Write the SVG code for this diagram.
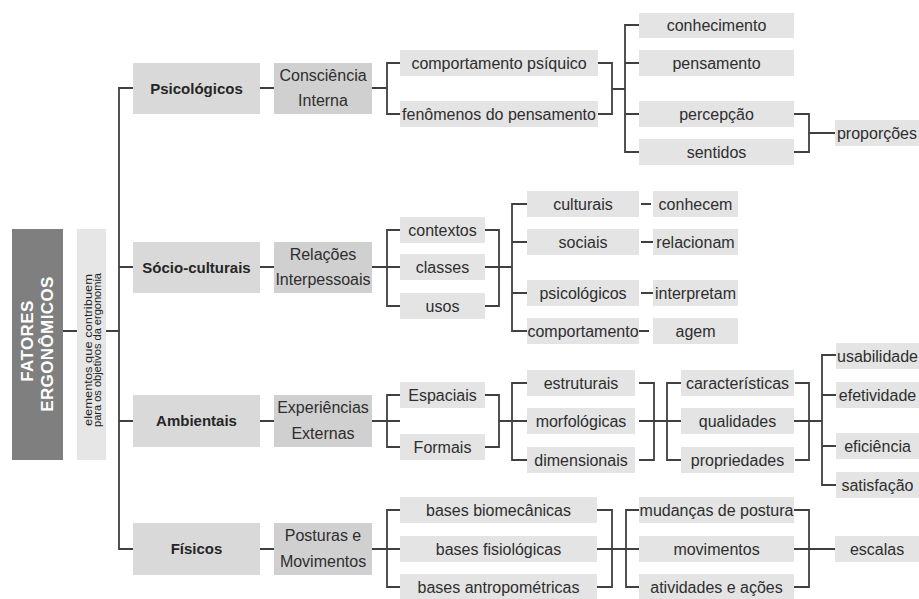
<svg xmlns="http://www.w3.org/2000/svg" width="919" height="599" viewBox="0 0 919 599">
<style>
text{font-family:"Liberation Sans",Arial,sans-serif;font-size:16px;fill:#2e2e2e;text-anchor:middle}
.b{font-weight:bold;font-size:15px;fill:#262626}
.w{font-weight:bold;font-size:17px;fill:#fff;letter-spacing:0.4px}
.s{font-size:11.5px;fill:#222}
.l1{fill:#d9d9d9}
.l2{fill:#d0d0d0}
.l3{fill:#e4e4e4}
.c path{fill:none;stroke:#404040;stroke-width:1.8}
</style>
<rect width="919" height="599" fill="#fff"/>
<g class="c" id="connectors">
<path d="M63,331H77M106,331H119M133,88H119V549H133M119,267H133M119,421H133"/>
<path d="M260,88H274M260,267H274M260,421H274M260,549H274"/>
<path d="M372,88H387M400,63H387V114H401M598,63H612V114H596M612,89H625M639,25H625V152H639M625,63H639M625,114H639M794,114H809V152H794M809,133H836"/>
<path d="M372,267H400M400,230H387V306H400M485,230H499V306H485M485,267H512M527,204H512V331H527M512,242H527M512,293H527M641,204H651M641,242H655M641,293H655M639,331H649"/>
<path d="M372,421H400M400,395H387V447H400M485,395H499V447H485M499,421H512M527,383H512V460H527M512,421H527M639,383H654V460H639M639,421H681M681,383H667V460H681M795,383H809V460H795M794,421H822M836,355H822V485H836M822,395H836M822,446H836"/>
<path d="M372,549H400M400,510H387V587H400M597,510H612V587H597M597,549H639M639,510H626V587H639M794,510H809V587H794M794,549H835"/>
</g>
<g id="fatores"><rect x="12" y="229" width="51" height="231" fill="#7f7f7f"/>
<text class="w" transform="translate(33,341) rotate(-90)">FATORES</text>
<text class="w" transform="translate(53,344) rotate(-90)">ERGONÔMICOS</text></g>
<g id="elementos"><rect x="77" y="229" width="29" height="231" fill="#e6e6e6"/>
<text class="s" transform="translate(92,350) rotate(-90)" textLength="152" lengthAdjust="spacingAndGlyphs">elementos que contribuem</text>
<text class="s" transform="translate(101,350) rotate(-90)" textLength="154" lengthAdjust="spacingAndGlyphs">para os objetivos da ergonomia</text></g>

<g id="psicologicos"><rect class="l1" x="133" y="63" width="127" height="51"/><text class="b" x="196.5" y="93.5">Psicológicos</text></g>
<g id="consciencia"><rect class="l2" x="274" y="63" width="98" height="51"/><text x="323" y="80.5">Consciência</text><text x="323" y="105.5">Interna</text></g>
<g id="comp-psiquico"><rect class="l3" x="400" y="50" width="198" height="26"/><text x="499" y="68.5">comportamento psíquico</text></g>
<g id="fenomenos"><rect class="l3" x="400" y="101" width="198" height="26"/><text x="499" y="119.5">fenômenos do pensamento</text></g>
<g id="conhecimento"><rect class="l3" x="639" y="13" width="155" height="25"/><text x="716.5" y="30.5">conhecimento</text></g>
<g id="pensamento"><rect class="l3" x="639" y="50" width="155" height="26"/><text x="716.5" y="68.5">pensamento</text></g>
<g id="percepcao"><rect class="l3" x="639" y="101" width="155" height="26"/><text x="716.5" y="119.5">percepção</text></g>
<g id="sentidos"><rect class="l3" x="639" y="139" width="155" height="26"/><text x="716.5" y="157.5">sentidos</text></g>
<g id="proporcoes"><rect class="l3" x="835" y="120" width="84" height="26"/><text x="877" y="138.5">proporções</text></g>

<g id="socio"><rect class="l1" x="133" y="242" width="127" height="51"/><text class="b" x="196.5" y="272.5">Sócio-culturais</text></g>
<g id="relacoes"><rect class="l2" x="274" y="242" width="98" height="51"/><text x="323" y="259.5">Relações</text><text x="323" y="284.5">Interpessoais</text></g>
<g id="contextos"><rect class="l3" x="400" y="217" width="85" height="26"/><text x="442.5" y="235.5">contextos</text></g>
<g id="classes"><rect class="l3" x="400" y="254" width="85" height="26"/><text x="442.5" y="272.5">classes</text></g>
<g id="usos"><rect class="l3" x="400" y="293" width="85" height="26"/><text x="442.5" y="311.5">usos</text></g>
<g id="culturais"><rect class="l3" x="527" y="191" width="112" height="26"/><text x="583" y="209.5">culturais</text></g>
<g id="sociais"><rect class="l3" x="527" y="229" width="112" height="26"/><text x="583" y="247.5">sociais</text></g>
<g id="psico2"><rect class="l3" x="527" y="280" width="112" height="26"/><text x="583" y="298.5">psicológicos</text></g>
<g id="comportamento"><rect class="l3" x="527" y="318" width="112" height="26"/><text x="583" y="336.5">comportamento</text></g>
<g id="conhecem"><rect class="l3" x="653" y="191" width="85" height="26"/><text x="695.5" y="209.5">conhecem</text></g>
<g id="relacionam"><rect class="l3" x="653" y="229" width="85" height="26"/><text x="695.5" y="247.5">relacionam</text></g>
<g id="interpretam"><rect class="l3" x="653" y="280" width="85" height="26"/><text x="695.5" y="298.5">interpretam</text></g>
<g id="agem"><rect class="l3" x="653" y="318" width="85" height="26"/><text x="695.5" y="336.5">agem</text></g>

<g id="ambientais"><rect class="l1" x="133" y="395" width="127" height="52"/><text class="b" x="196.5" y="426">Ambientais</text></g>
<g id="experiencias"><rect class="l2" x="274" y="395" width="98" height="52"/><text x="323" y="413">Experiências</text><text x="323" y="438.5">Externas</text></g>
<g id="espaciais"><rect class="l3" x="400" y="382" width="85" height="26"/><text x="442.5" y="400.5">Espaciais</text></g>
<g id="formais"><rect class="l3" x="400" y="434" width="85" height="26"/><text x="442.5" y="452.5">Formais</text></g>
<g id="estruturais"><rect class="l3" x="527" y="370" width="108" height="26"/><text x="581" y="388.5">estruturais</text></g>
<g id="morfologicas"><rect class="l3" x="527" y="408" width="108" height="26"/><text x="581" y="426.5">morfológicas</text></g>
<g id="dimensionais"><rect class="l3" x="527" y="447" width="108" height="26"/><text x="581" y="465.5">dimensionais</text></g>
<g id="caracteristicas"><rect class="l3" x="681" y="370" width="113" height="26"/><text x="737.5" y="388.5">características</text></g>
<g id="qualidades"><rect class="l3" x="681" y="408" width="113" height="26"/><text x="737.5" y="426.5">qualidades</text></g>
<g id="propriedades"><rect class="l3" x="681" y="447" width="113" height="26"/><text x="737.5" y="465.5">propriedades</text></g>
<g id="usabilidade"><rect class="l3" x="836" y="343" width="83" height="26"/><text x="877.5" y="361.5">usabilidade</text></g>
<g id="efetividade"><rect class="l3" x="836" y="382" width="83" height="26"/><text x="877.5" y="400.5">efetividade</text></g>
<g id="eficiencia"><rect class="l3" x="836" y="433" width="83" height="26"/><text x="877.5" y="451.5">eficiência</text></g>
<g id="satisfacao"><rect class="l3" x="836" y="472" width="83" height="26"/><text x="877.5" y="490.5">satisfação</text></g>

<g id="fisicos"><rect class="l1" x="133" y="523" width="127" height="52"/><text class="b" x="196.5" y="554">Físicos</text></g>
<g id="posturas"><rect class="l2" x="274" y="523" width="98" height="52"/><text x="323" y="541">Posturas e</text><text x="323" y="566.5">Movimentos</text></g>
<g id="biomecanicas"><rect class="l3" x="400" y="497" width="197" height="26"/><text x="498.5" y="515.5">bases biomecânicas</text></g>
<g id="fisiologicas"><rect class="l3" x="400" y="536" width="197" height="26"/><text x="498.5" y="554.5">bases fisiológicas</text></g>
<g id="antropometricas"><rect class="l3" x="400" y="574" width="197" height="26"/><text x="498.5" y="592.5">bases antropométricas</text></g>
<g id="mudancas"><rect class="l3" x="639" y="497" width="155" height="26"/><text x="716.5" y="515.5">mudanças de postura</text></g>
<g id="movimentos"><rect class="l3" x="639" y="536" width="155" height="26"/><text x="716.5" y="554.5">movimentos</text></g>
<g id="atividades"><rect class="l3" x="639" y="574" width="155" height="26"/><text x="716.5" y="592.5">atividades e ações</text></g>
<g id="escalas"><rect class="l3" x="835" y="536" width="84" height="26"/><text x="877" y="554.5">escalas</text></g>
</svg>
